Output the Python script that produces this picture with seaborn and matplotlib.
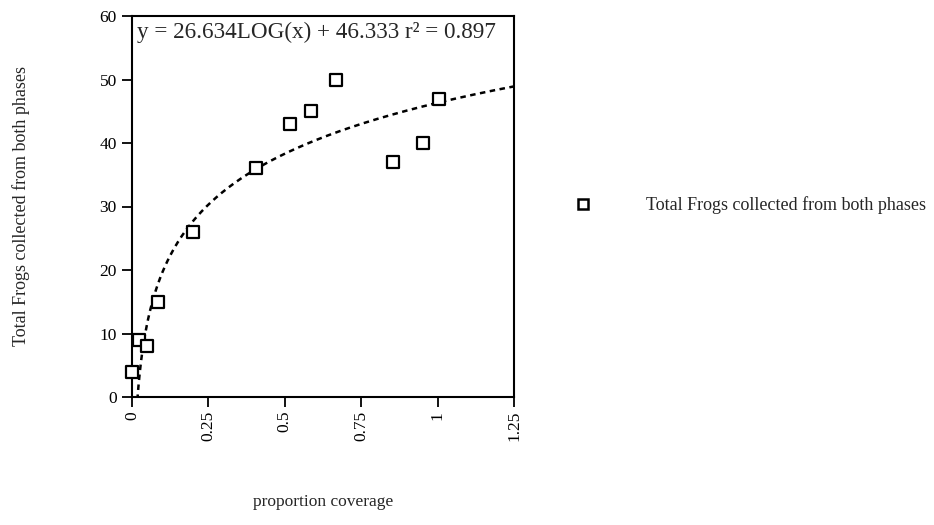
import numpy as np
import pandas as pd
import matplotlib
matplotlib.use("Agg")
import matplotlib.pyplot as plt
import seaborn as sns
from matplotlib.lines import Line2D

# Data
coverage = [0.0, 0.023, 0.05, 0.086, 0.20, 0.405, 0.517, 0.585, 0.667, 0.855, 0.951, 1.004]
frogs = [4, 9, 8, 15, 26, 36, 43, 45, 50, 37, 40, 47]
series_name = "Total Frogs collected from both phases"

# Trendline coefficients (as printed on the chart)
slope = 26.634
intercept = 46.333
r2 = 0.897

x_ticks = [0, 0.25, 0.5, 0.75, 1, 1.25]
x_ticklabels = ["0", "0.25", "0.5", "0.75", "1", "1.25"]
y_ticks = [0, 10, 20, 30, 40, 50, 60]

sns.set_theme(style="ticks")
plt.rcParams['font.family'] = ['Liberation Serif', 'DejaVu Serif']

fig = plt.figure(figsize=(9.34, 5.25), dpi=100)
ax = fig.add_axes([132/934, 1 - 397/525, (514-132)/934, (397-16)/525])

df = pd.DataFrame({"coverage": coverage, "frogs": frogs})
fit_x = np.linspace(0.0175, 1.25, 300)
fit_df = pd.DataFrame({"x": fit_x, "y": slope * np.log10(fit_x) + intercept})

sns.lineplot(data=fit_df, x="x", y="y", ax=ax, color="black", lw=1.8,
             linestyle=(0, (2.2, 1.8)), zorder=2)
sns.scatterplot(data=df, x="coverage", y="frogs", ax=ax, marker="s", s=85,
                facecolor="white", edgecolor="black", linewidth=1.6, zorder=3,
                clip_on=False)

ax.set_xlim(0, 1.25)
ax.set_ylim(0, 60)
ax.set_xticks(x_ticks)
ax.set_xticklabels(x_ticklabels, rotation=90, fontsize=12.5)
ax.set_yticks(y_ticks)
ax.tick_params(axis='y', labelsize=12.5, direction='out', length=7, width=1.3,
               pad=4, colors='black')
ax.tick_params(axis='x', labelsize=12.5, direction='out', length=7, width=1.3,
               pad=3, colors='black')
for sp in ax.spines.values():
    sp.set_linewidth(1.5)
    sp.set_color("black")
    sp.set_visible(True)

ax.set_xlabel("")
ax.set_ylabel("")
fig.text(323/934, 1 - 502/525, "proportion coverage", ha="center", va="center", fontsize=12.5)
fig.text(21/934, 1 - 206/525, series_name, ha="center", va="center", rotation=90, fontsize=13)

ax.text(0.013, 0.985, f"y = {slope:.3f}LOG(x) + {intercept:.3f} r\u00b2 = {r2:.3f}",
        transform=ax.transAxes, ha="left", va="top", fontsize=16.7)

handle = Line2D([], [], marker="s", linestyle="none", markersize=7.5,
                markerfacecolor="white", markeredgecolor="black", markeredgewidth=1.8)
fig.legend([handle], [series_name], loc="center left",
           bbox_to_anchor=(567/934, 1 - 205/525), frameon=False,
           fontsize=13, handlelength=1.0, handletextpad=3.0, borderaxespad=0)

fig.savefig("out.png", dpi=100)
